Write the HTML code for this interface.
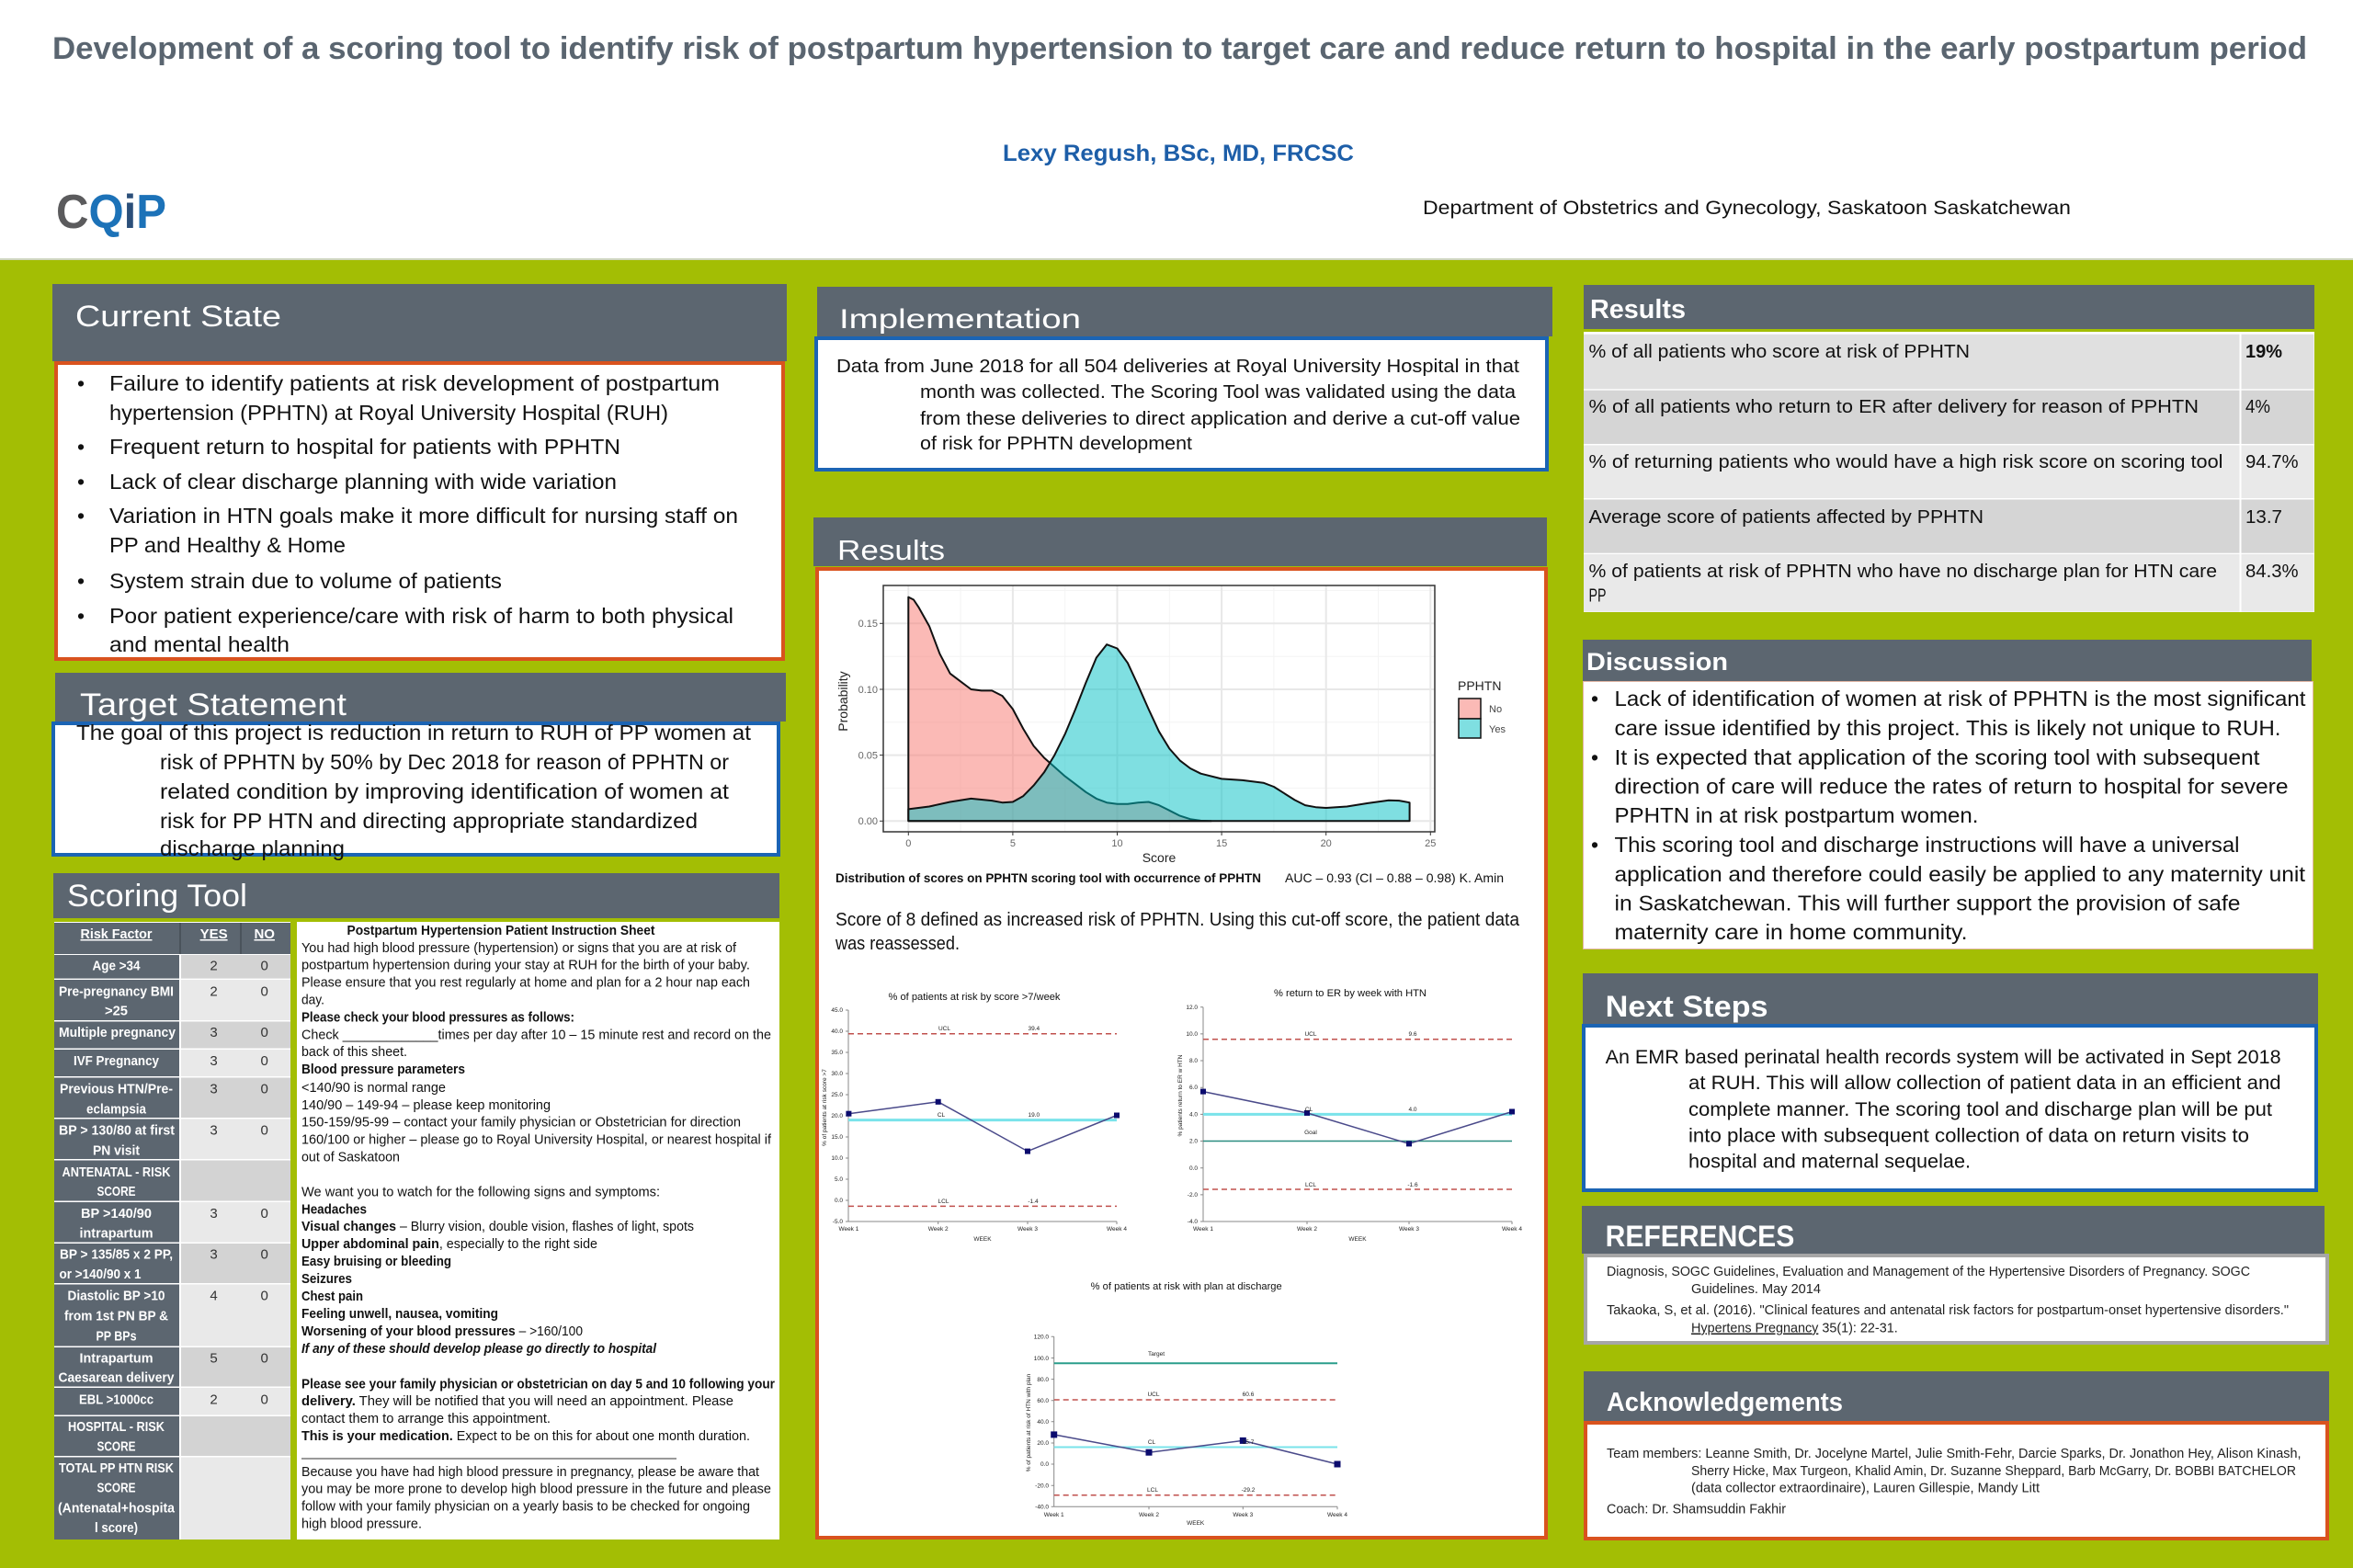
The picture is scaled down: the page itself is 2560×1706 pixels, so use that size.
<!DOCTYPE html>
<html><head><meta charset="utf-8"><title>PPHTN Poster</title>
<style>
html,body{margin:0;padding:0;background:#fff;width:2560px;height:1706px;overflow:hidden}
svg{display:block}
text{font-family:"Liberation Sans",Arial,sans-serif}
.w{fill:#fff}
.b{font-weight:bold}
.k{fill:#111}
.s{fill:#222;font-size:6.5px}
</style></head>
<body>
<svg xmlns="http://www.w3.org/2000/svg" width="2560" height="1706" viewBox="0 0 2560 1706">
<!-- header area -->
<rect x="0" y="0" width="2560" height="283" fill="#fff"/>
<text x="57" y="64" font-size="34" class="b" fill="#5a6570" textLength="2453" lengthAdjust="spacingAndGlyphs">Development of a scoring tool to identify risk of postpartum hypertension to target care and reduce return to hospital in the early postpartum period</text>
<text x="1091" y="175" font-size="25" class="b" fill="#1d5ea8" textLength="382" lengthAdjust="spacingAndGlyphs">Lexy Regush, BSc, MD, FRCSC</text>
<text x="1548" y="233" font-size="21" class="k" textLength="705" lengthAdjust="spacingAndGlyphs">Department of Obstetrics and Gynecology, Saskatoon Saskatchewan</text>
<text x="61" y="248" font-size="52" class="b" textLength="120" lengthAdjust="spacingAndGlyphs"><tspan fill="#5b5b5d">C</tspan><tspan fill="#1c72b8">Q</tspan><tspan fill="#2b4f7a">i</tspan><tspan fill="#1c72b8">P</tspan></text>

<!-- green background -->
<rect x="0" y="281" width="2560" height="2" fill="#cfd6c0"/>
<rect x="0" y="283" width="2560" height="1423" fill="#a3be04"/>

<!-- ============ LEFT COLUMN ============ -->
<!-- Current State -->
<rect x="57" y="309" width="799" height="84" fill="#5c6670"/>
<text x="82" y="355" font-size="32" class="w" textLength="224" lengthAdjust="spacingAndGlyphs">Current State</text>
<rect x="61" y="395" width="791" height="322" fill="#fff" stroke="#d9531e" stroke-width="4"/>
<g font-size="23" class="k">
<text x="84" y="425">•</text>
<text x="119" y="425" textLength="664" lengthAdjust="spacingAndGlyphs">Failure to identify patients at risk development of postpartum</text>
<text x="119" y="457" textLength="608" lengthAdjust="spacingAndGlyphs">hypertension (PPHTN) at Royal University Hospital (RUH)</text>
<text x="84" y="494">•</text>
<text x="119" y="494" textLength="556" lengthAdjust="spacingAndGlyphs">Frequent return to hospital for patients with PPHTN</text>
<text x="84" y="532">•</text>
<text x="119" y="532" textLength="552" lengthAdjust="spacingAndGlyphs">Lack of clear discharge planning with wide variation</text>
<text x="84" y="569">•</text>
<text x="119" y="569" textLength="684" lengthAdjust="spacingAndGlyphs">Variation in HTN goals make it more difficult for nursing staff on</text>
<text x="119" y="601" textLength="257" lengthAdjust="spacingAndGlyphs">PP and Healthy &amp; Home</text>
<text x="84" y="640">•</text>
<text x="119" y="640" textLength="427" lengthAdjust="spacingAndGlyphs">System strain due to volume of patients</text>
<text x="84" y="678">•</text>
<text x="119" y="678" textLength="679" lengthAdjust="spacingAndGlyphs">Poor patient experience/care with risk of harm to both physical</text>
<text x="119" y="709" textLength="196" lengthAdjust="spacingAndGlyphs">and mental health</text>
</g>

<!-- Target Statement -->
<rect x="60" y="732" width="795" height="53" fill="#5c6670"/>
<rect x="58" y="787" width="789" height="143" fill="#fff" stroke="#1b64b4" stroke-width="4"/>
<text x="87" y="778" font-size="34" class="w" textLength="290" lengthAdjust="spacingAndGlyphs">Target Statement</text>
<g font-size="23" class="k">
<text x="83" y="805" textLength="734" lengthAdjust="spacingAndGlyphs">The goal of this project is reduction in return to RUH of PP women at</text>
<text x="174" y="837" textLength="619" lengthAdjust="spacingAndGlyphs">risk of PPHTN by 50% by Dec 2018 for reason of PPHTN or</text>
<text x="174" y="869" textLength="619" lengthAdjust="spacingAndGlyphs">related condition by improving identification of women at</text>
<text x="174" y="901" textLength="585" lengthAdjust="spacingAndGlyphs">risk for PP HTN and directing appropriate standardized</text>
<text x="174" y="931" textLength="201" lengthAdjust="spacingAndGlyphs">discharge planning</text>
</g>

<!-- Scoring Tool -->
<rect x="58" y="950" width="790" height="49" fill="#5c6670"/>
<text x="73" y="986" font-size="34" class="w" textLength="196" lengthAdjust="spacingAndGlyphs">Scoring Tool</text>
<!-- table -->
<rect x="59" y="1003" width="257" height="672" fill="#fff"/>
<rect x="59" y="1004" width="257" height="34" fill="#5c6670"/>
<rect x="195" y="1004" width="2" height="34" fill="#4a535b"/>
<rect x="261" y="1004" width="2" height="34" fill="#4a535b"/>
<g font-size="15" class="b w" text-anchor="middle" text-decoration="underline">
<text x="126.5" y="1021" textLength="78" lengthAdjust="spacingAndGlyphs">Risk Factor</text>
<text x="232.6" y="1021">YES</text>
<text x="287.7" y="1021">NO</text>
</g>
<!-- rows -->
<g>
<rect x="59" y="1039" width="136" height="25.6" fill="#5c6670"/><rect x="197" y="1039" width="119" height="25.6" fill="#d3d3d3"/>
<rect x="59" y="1066" width="136" height="44" fill="#5c6670"/><rect x="197" y="1066" width="119" height="44" fill="#e9e9e9"/>
<rect x="59" y="1111.5" width="136" height="29" fill="#5c6670"/><rect x="197" y="1111.5" width="119" height="29" fill="#d3d3d3"/>
<rect x="59" y="1142" width="136" height="29" fill="#5c6670"/><rect x="197" y="1142" width="119" height="29" fill="#e9e9e9"/>
<rect x="59" y="1172.5" width="136" height="43.5" fill="#5c6670"/><rect x="197" y="1172.5" width="119" height="43.5" fill="#d3d3d3"/>
<rect x="59" y="1217.5" width="136" height="43.5" fill="#5c6670"/><rect x="197" y="1217.5" width="119" height="43.5" fill="#e9e9e9"/>
<rect x="59" y="1262.5" width="136" height="44" fill="#5c6670"/><rect x="197" y="1262.5" width="119" height="44" fill="#d3d3d3"/>
<rect x="59" y="1308" width="136" height="43.5" fill="#5c6670"/><rect x="197" y="1308" width="119" height="43.5" fill="#e9e9e9"/>
<rect x="59" y="1353" width="136" height="43" fill="#5c6670"/><rect x="197" y="1353" width="119" height="43" fill="#d3d3d3"/>
<rect x="59" y="1397.5" width="136" height="67" fill="#5c6670"/><rect x="197" y="1397.5" width="119" height="67" fill="#e9e9e9"/>
<rect x="59" y="1466" width="136" height="42.5" fill="#5c6670"/><rect x="197" y="1466" width="119" height="42.5" fill="#d3d3d3"/>
<rect x="59" y="1510" width="136" height="29.5" fill="#5c6670"/><rect x="197" y="1510" width="119" height="29.5" fill="#e9e9e9"/>
<rect x="59" y="1541" width="136" height="43" fill="#5c6670"/><rect x="197" y="1541" width="119" height="43" fill="#d3d3d3"/>
<rect x="59" y="1585.5" width="136" height="89.5" fill="#5c6670"/><rect x="197" y="1585.5" width="119" height="89.5" fill="#e9e9e9"/>
</g>
<g font-size="15" class="b w" text-anchor="middle">
<text x="126.5" y="1055.5" textLength="52" lengthAdjust="spacingAndGlyphs">Age &gt;34</text>
<text x="126.5" y="1083.3" textLength="125" lengthAdjust="spacingAndGlyphs">Pre-pregnancy BMI</text>
<text x="126.5" y="1104.3" textLength="25" lengthAdjust="spacingAndGlyphs">&gt;25</text>
<text x="127.5" y="1128.2" textLength="127" lengthAdjust="spacingAndGlyphs">Multiple pregnancy</text>
<text x="126.5" y="1159" textLength="93" lengthAdjust="spacingAndGlyphs">IVF Pregnancy</text>
<text x="126.5" y="1189.5" textLength="123" lengthAdjust="spacingAndGlyphs">Previous HTN/Pre-</text>
<text x="126.5" y="1211.5" textLength="65" lengthAdjust="spacingAndGlyphs">eclampsia</text>
<text x="127" y="1234.5" textLength="126" lengthAdjust="spacingAndGlyphs">BP &gt; 130/80 at first</text>
<text x="126.5" y="1256.5" textLength="51" lengthAdjust="spacingAndGlyphs">PN visit</text>
<text x="126.5" y="1280" textLength="118" lengthAdjust="spacingAndGlyphs">ANTENATAL - RISK</text>
<text x="126.5" y="1301" textLength="42" lengthAdjust="spacingAndGlyphs">SCORE</text>
<text x="126.5" y="1325" textLength="77" lengthAdjust="spacingAndGlyphs">BP &gt;140/90</text>
<text x="126.5" y="1346.5" textLength="80" lengthAdjust="spacingAndGlyphs">intrapartum</text>
<text x="126.5" y="1369.5" textLength="123" lengthAdjust="spacingAndGlyphs">BP &gt; 135/85 x 2 PP,</text>
<text x="109" y="1391" textLength="89" lengthAdjust="spacingAndGlyphs">or &gt;140/90 x 1</text>
<text x="126.5" y="1414.5" textLength="106" lengthAdjust="spacingAndGlyphs">Diastolic BP &gt;10</text>
<text x="126.5" y="1436.5" textLength="113" lengthAdjust="spacingAndGlyphs">from 1st PN BP &amp;</text>
<text x="126.5" y="1458.5" textLength="44" lengthAdjust="spacingAndGlyphs">PP BPs</text>
<text x="126.5" y="1482.5" textLength="80" lengthAdjust="spacingAndGlyphs">Intrapartum</text>
<text x="126.5" y="1503.5" textLength="126" lengthAdjust="spacingAndGlyphs">Caesarean delivery</text>
<text x="126.5" y="1527.5" textLength="81" lengthAdjust="spacingAndGlyphs">EBL &gt;1000cc</text>
<text x="126.5" y="1557" textLength="105" lengthAdjust="spacingAndGlyphs">HOSPITAL - RISK</text>
<text x="126.5" y="1578.5" textLength="42" lengthAdjust="spacingAndGlyphs">SCORE</text>
<text x="126.5" y="1602" textLength="125" lengthAdjust="spacingAndGlyphs">TOTAL PP HTN RISK</text>
<text x="126.5" y="1623.5" textLength="42" lengthAdjust="spacingAndGlyphs">SCORE</text>
<text x="126.5" y="1645.5" textLength="127" lengthAdjust="spacingAndGlyphs">(Antenatal+hospita</text>
<text x="126.5" y="1667" textLength="47" lengthAdjust="spacingAndGlyphs">l score)</text>
</g>
<g font-size="15" fill="#333" text-anchor="middle">
<text x="232.6" y="1055.5">2</text><text x="287.7" y="1055.5">0</text>
<text x="232.6" y="1083.3">2</text><text x="287.7" y="1083.3">0</text>
<text x="232.6" y="1128.2">3</text><text x="287.7" y="1128.2">0</text>
<text x="232.6" y="1159">3</text><text x="287.7" y="1159">0</text>
<text x="232.6" y="1189.5">3</text><text x="287.7" y="1189.5">0</text>
<text x="232.6" y="1234.5">3</text><text x="287.7" y="1234.5">0</text>
<text x="232.6" y="1325">3</text><text x="287.7" y="1325">0</text>
<text x="232.6" y="1369.5">3</text><text x="287.7" y="1369.5">0</text>
<text x="232.6" y="1414.5">4</text><text x="287.7" y="1414.5">0</text>
<text x="232.6" y="1482.5">5</text><text x="287.7" y="1482.5">0</text>
<text x="232.6" y="1527.5">2</text><text x="287.7" y="1527.5">0</text>
</g>
<!-- instruction sheet -->
<rect x="323" y="1003" width="525" height="672" fill="#fff"/>
<g font-size="15" class="k">
<text x="377.5" y="1017" class="b" textLength="335" lengthAdjust="spacingAndGlyphs">Postpartum Hypertension Patient Instruction Sheet</text>
<text x="328" y="1036" textLength="473" lengthAdjust="spacingAndGlyphs">You had high blood pressure (hypertension) or signs that you are at risk of</text>
<text x="328" y="1054.5" textLength="488" lengthAdjust="spacingAndGlyphs">postpartum hypertension during your stay at RUH for the birth of your baby.</text>
<text x="328" y="1073.5" textLength="488" lengthAdjust="spacingAndGlyphs">Please ensure that you rest regularly at home and plan for a 2 hour nap each</text>
<text x="328" y="1092.5" textLength="25" lengthAdjust="spacingAndGlyphs">day.</text>
<text x="328" y="1111.5" class="b" textLength="297" lengthAdjust="spacingAndGlyphs">Please check your blood pressures as follows:</text>
<text x="328" y="1130.5" textLength="511" lengthAdjust="spacingAndGlyphs">Check _____________times  per day after 10 – 15 minute rest and record on the</text>
<text x="328" y="1149" textLength="115" lengthAdjust="spacingAndGlyphs">back of this sheet.</text>
<text x="328" y="1168" class="b" textLength="178" lengthAdjust="spacingAndGlyphs">Blood pressure parameters</text>
<text x="328" y="1188" textLength="157" lengthAdjust="spacingAndGlyphs">&lt;140/90 is normal range</text>
<text x="328" y="1207" textLength="271" lengthAdjust="spacingAndGlyphs">140/90 – 149-94 – please keep monitoring</text>
<text x="328" y="1225.5" textLength="478" lengthAdjust="spacingAndGlyphs">150-159/95-99 – contact your family physician or Obstetrician for direction</text>
<text x="328" y="1244.5" textLength="511" lengthAdjust="spacingAndGlyphs">160/100 or higher – please go to Royal University Hospital, or nearest hospital if</text>
<text x="328" y="1263.5" textLength="107" lengthAdjust="spacingAndGlyphs">out of Saskatoon</text>
<text x="328" y="1301.5" textLength="390" lengthAdjust="spacingAndGlyphs">We want you to watch for the following signs and symptoms:</text>
<text x="328" y="1320.5" class="b" textLength="71" lengthAdjust="spacingAndGlyphs">Headaches</text>
<text x="328" y="1339" textLength="427" lengthAdjust="spacingAndGlyphs"><tspan class="b">Visual changes</tspan> – Blurry vision, double vision, flashes of light, spots</text>
<text x="328" y="1358" textLength="322" lengthAdjust="spacingAndGlyphs"><tspan class="b">Upper abdominal  pain</tspan>, especially  to the right side</text>
<text x="328" y="1377" class="b" textLength="163" lengthAdjust="spacingAndGlyphs">Easy bruising or bleeding</text>
<text x="328" y="1396" class="b" textLength="55" lengthAdjust="spacingAndGlyphs">Seizures</text>
<text x="328" y="1415" class="b" textLength="67" lengthAdjust="spacingAndGlyphs">Chest pain</text>
<text x="328" y="1434" class="b" textLength="214" lengthAdjust="spacingAndGlyphs">Feeling unwell, nausea, vomiting</text>
<text x="328" y="1453" textLength="306" lengthAdjust="spacingAndGlyphs"><tspan class="b">Worsening of your blood pressures</tspan> – &gt;160/100</text>
<text x="328" y="1472" class="b" font-style="italic" textLength="386" lengthAdjust="spacingAndGlyphs">If any of these should develop please go directly to hospital</text>
<text x="328" y="1510.5" class="b" textLength="515" lengthAdjust="spacingAndGlyphs">Please see your family physician or obstetrician on day 5 and 10 following your</text>
<text x="328" y="1529" textLength="470" lengthAdjust="spacingAndGlyphs"><tspan class="b">delivery.</tspan>  They will be notified  that you will need an appointment.   Please</text>
<text x="328" y="1548" textLength="271" lengthAdjust="spacingAndGlyphs">contact them to arrange this appointment.</text>
<text x="328" y="1567" textLength="488" lengthAdjust="spacingAndGlyphs"><tspan class="b">This is your medication.</tspan>  Expect to be on this for about one month duration.</text>
<line x1="328" y1="1587" x2="736" y2="1587" stroke="#333" stroke-width="1"/>
<text x="328" y="1606" textLength="498" lengthAdjust="spacingAndGlyphs">Because you have had high blood pressure in pregnancy, please be aware that</text>
<text x="328" y="1624.5" textLength="511" lengthAdjust="spacingAndGlyphs">you may be more prone to develop high blood pressure in the future and please</text>
<text x="328" y="1643.5" textLength="488" lengthAdjust="spacingAndGlyphs">follow with your family physician on a yearly basis to be checked for ongoing</text>
<text x="328" y="1662.5" textLength="131" lengthAdjust="spacingAndGlyphs">high blood pressure.</text>
</g>

<!-- ============ MIDDLE COLUMN ============ -->
<!-- Implementation -->
<rect x="889" y="312" width="800" height="54" fill="#5c6670"/>
<text x="913" y="357" font-size="30" class="w" textLength="263" lengthAdjust="spacingAndGlyphs">Implementation</text>
<rect x="888" y="368" width="795" height="143" fill="#fff" stroke="#1b64b4" stroke-width="4"/>
<g font-size="20" class="k">
<text x="910" y="405" textLength="743" lengthAdjust="spacingAndGlyphs">Data from June 2018  for all 504 deliveries at Royal University Hospital in that</text>
<text x="1001" y="433" textLength="648" lengthAdjust="spacingAndGlyphs">month was collected. The Scoring Tool was validated using the data</text>
<text x="1001" y="462" textLength="653" lengthAdjust="spacingAndGlyphs">from these deliveries to direct application and derive a cut-off value</text>
<text x="1001" y="489" textLength="296" lengthAdjust="spacingAndGlyphs">of risk for PPHTN development</text>
</g>

<!-- Results (middle) -->
<rect x="885" y="563" width="798" height="53" fill="#5c6670"/>
<text x="911" y="609" font-size="31" class="w" textLength="117" lengthAdjust="spacingAndGlyphs">Results</text>
<rect x="889" y="619" width="793" height="1054" fill="#fff" stroke="#d9531e" stroke-width="4"/>

<!-- density chart -->
<rect x="961" y="637" width="600" height="268" fill="#fff"/>
<g stroke="#f4f4f4" stroke-width="1">
<line x1="961" y1="857.5" x2="1561" y2="857.5"/><line x1="961" y1="785.8" x2="1561" y2="785.8"/><line x1="961" y1="714.2" x2="1561" y2="714.2"/><line x1="961" y1="642.5" x2="1561" y2="642.5"/>
<line x1="1045.1" y1="637" x2="1045.1" y2="905"/><line x1="1158.7" y1="637" x2="1158.7" y2="905"/><line x1="1272.3" y1="637" x2="1272.3" y2="905"/><line x1="1385.9" y1="637" x2="1385.9" y2="905"/><line x1="1499.5" y1="637" x2="1499.5" y2="905"/>
</g>
<g stroke="#e8e8e8" stroke-width="2">
<line x1="961" y1="893.3" x2="1561" y2="893.3"/><line x1="961" y1="821.6" x2="1561" y2="821.6"/><line x1="961" y1="750" x2="1561" y2="750"/><line x1="961" y1="678.3" x2="1561" y2="678.3"/>
<line x1="988.3" y1="637" x2="988.3" y2="905"/><line x1="1101.9" y1="637" x2="1101.9" y2="905"/><line x1="1215.5" y1="637" x2="1215.5" y2="905"/><line x1="1329.1" y1="637" x2="1329.1" y2="905"/><line x1="1442.7" y1="637" x2="1442.7" y2="905"/><line x1="1556.3" y1="637" x2="1556.3" y2="905"/>
</g>
<path d="M988.3,893.3 L988.3,649.6 L994,652.5 L999.7,661.1 L1011,681.2 L1022.4,711.3 L1033.7,732.8 L1045.1,741.4 L1056.5,750 L1067.8,751.4 L1079.2,751.4 L1090.5,757.1 L1101.9,771.5 L1113.3,793 L1124.6,811.6 L1136,824.5 L1147.3,834.5 L1158.7,844.6 L1170.1,853.2 L1181.4,861.8 L1192.8,868.9 L1204.1,873.2 L1215.5,874.7 L1226.9,874.7 L1238.2,873.2 L1249.6,872.5 L1260.9,876.1 L1272.3,881.8 L1283.7,887.6 L1295,891.2 L1306.4,892.9 L1317.7,893.3 Z" fill="#F8766D" fill-opacity="0.5" stroke="#111" stroke-width="2" stroke-linejoin="round"/>
<path d="M988.3,893.3 L988.3,880.4 L1011,877.5 L1033.7,872.5 L1056.5,868.9 L1079.2,871.1 L1090.5,873.2 L1101.9,872.5 L1113.3,866.1 L1124.6,854.6 L1136,840.3 L1147.3,821.6 L1158.7,798.7 L1170.1,771.5 L1181.4,742.8 L1192.8,715.6 L1204.1,701.2 L1215.5,705.5 L1226.9,721.3 L1238.2,745.7 L1249.6,771.5 L1260.9,795.8 L1272.3,814.5 L1283.7,827.4 L1295,836 L1306.4,841.7 L1329.1,847.4 L1351.8,848.9 L1374.5,851.7 L1385.9,856 L1397.3,863.2 L1408.6,870.4 L1420,876.1 L1431.4,878.2 L1442.7,879 L1465.4,877.5 L1488.1,873.9 L1510.9,870.7 L1522.2,871.1 L1533.6,873.2 L1533.6,893.3 Z" fill="#00BFC4" fill-opacity="0.5" stroke="#111" stroke-width="2" stroke-linejoin="round"/>
<rect x="961" y="637" width="600" height="268" fill="none" stroke="#333" stroke-width="1.5"/>
<g stroke="#333" stroke-width="1">
<line x1="957" y1="893.3" x2="961" y2="893.3"/><line x1="957" y1="821.6" x2="961" y2="821.6"/><line x1="957" y1="750" x2="961" y2="750"/><line x1="957" y1="678.3" x2="961" y2="678.3"/>
<line x1="988.3" y1="905" x2="988.3" y2="909"/><line x1="1101.9" y1="905" x2="1101.9" y2="909"/><line x1="1215.5" y1="905" x2="1215.5" y2="909"/><line x1="1329.1" y1="905" x2="1329.1" y2="909"/><line x1="1442.7" y1="905" x2="1442.7" y2="909"/><line x1="1556.3" y1="905" x2="1556.3" y2="909"/>
</g>
<g font-size="11" fill="#666" text-anchor="end">
<text x="955" y="897">0.00</text><text x="955" y="825.5">0.05</text><text x="955" y="754">0.10</text><text x="955" y="682">0.15</text>
</g>
<g font-size="11" fill="#666" text-anchor="middle">
<text x="988.3" y="921">0</text><text x="1101.9" y="921">5</text><text x="1215.5" y="921">10</text><text x="1329.1" y="921">15</text><text x="1442.7" y="921">20</text><text x="1556.3" y="921">25</text>
</g>
<text x="1261" y="938" font-size="14" fill="#222" text-anchor="middle">Score</text>
<text transform="translate(922,763) rotate(-90)" font-size="14" fill="#222" text-anchor="middle">Probability</text>
<text x="1586" y="751" font-size="14" fill="#222">PPHTN</text>
<rect x="1587" y="760" width="24" height="22" fill="#fbbab6" stroke="#111" stroke-width="1.5"/>
<rect x="1587" y="782" width="24" height="21" fill="#7fdfe1" stroke="#111" stroke-width="1.5"/>
<text x="1620" y="775" font-size="11" fill="#444">No</text>
<text x="1620" y="797" font-size="11" fill="#444">Yes</text>

<text x="909" y="960" font-size="14" class="b k" textLength="463" lengthAdjust="spacingAndGlyphs">Distribution of scores on PPHTN scoring tool with occurrence of PPHTN</text>
<text x="1398" y="960" font-size="14" class="k" textLength="238" lengthAdjust="spacingAndGlyphs">AUC – 0.93 (CI – 0.88 – 0.98)  K. Amin</text>
<text x="909" y="1007" font-size="20" class="k" textLength="744" lengthAdjust="spacingAndGlyphs">Score of 8 defined as increased risk of PPHTN.  Using this cut-off score, the patient data</text>
<text x="909" y="1033" font-size="20" class="k" textLength="135" lengthAdjust="spacingAndGlyphs">was reassessed.</text>

<!-- small chart 1 -->
<text x="1060" y="1088" font-size="11" class="k" text-anchor="middle" textLength="187" lengthAdjust="spacingAndGlyphs">% of patients at risk by score &gt;7/week</text>
<g stroke="#888" stroke-width="1" fill="none">
<line x1="923" y1="1099" x2="923" y2="1329"/><line x1="923" y1="1329" x2="1215" y2="1329"/>
<path d="M920,1099h3M920,1122h3M920,1145h3M920,1168h3M920,1191h3M920,1214h3M920,1237h3M920,1260h3M920,1283h3M920,1306h3M920,1329h3M1020.7,1329v3M1118,1329v3M1215,1329v3"/>
</g>
<line x1="923" y1="1124.8" x2="1215" y2="1124.8" stroke="#c0504d" stroke-width="1.5" stroke-dasharray="6,4"/>
<line x1="923" y1="1218.6" x2="1215" y2="1218.6" stroke="#7ae3ea" stroke-width="3"/>
<line x1="923" y1="1312.4" x2="1215" y2="1312.4" stroke="#c0504d" stroke-width="1.5" stroke-dasharray="6,4"/>
<polyline points="923.4,1211.7 1020.7,1198.8 1118,1252.6 1215,1213.5" fill="none" stroke="#4a4a8a" stroke-width="1.5"/>
<g fill="#0b0b6e"><rect x="920.4" y="1208.7" width="6" height="6"/><rect x="1017.7" y="1195.8" width="6" height="6"/><rect x="1115" y="1249.6" width="6" height="6"/><rect x="1212" y="1210.5" width="6" height="6"/></g>
<g class="s" text-anchor="end">
<text x="917" y="1101">45.0</text><text x="917" y="1124">40.0</text><text x="917" y="1147">35.0</text><text x="917" y="1170">30.0</text><text x="917" y="1193">25.0</text><text x="917" y="1216">20.0</text><text x="917" y="1239">15.0</text><text x="917" y="1262">10.0</text><text x="917" y="1285">5.0</text><text x="917" y="1308">0.0</text><text x="917" y="1331">-5.0</text>
</g>
<g class="s" text-anchor="middle">
<text x="923.4" y="1339">Week 1</text><text x="1020.7" y="1339">Week 2</text><text x="1118" y="1339">Week 3</text><text x="1215" y="1339">Week 4</text>
<text x="1069" y="1350">WEEK</text>
<text x="1027.5" y="1121">UCL</text><text x="1124.8" y="1121">39.4</text>
<text x="1024" y="1215">CL</text><text x="1124.8" y="1215">19.0</text>
<text x="1026.5" y="1309">LCL</text><text x="1124" y="1309">-1.4</text>
<text transform="translate(899,1205) rotate(-90)">% of patients at risk score &gt;7</text>
</g>

<!-- small chart 2 -->
<text x="1469" y="1084" font-size="11" class="k" text-anchor="middle" textLength="166" lengthAdjust="spacingAndGlyphs">% return to ER by week  with HTN</text>
<g stroke="#888" stroke-width="1" fill="none">
<line x1="1309" y1="1095.7" x2="1309" y2="1329"/><line x1="1309" y1="1329" x2="1645" y2="1329"/>
<path d="M1306,1095.7h3M1306,1124.9h3M1306,1154h3M1306,1183.2h3M1306,1212.4h3M1306,1241.5h3M1306,1270.7h3M1306,1299.9h3M1306,1329h3M1422,1329v3M1533,1329v3M1645,1329v3"/>
</g>
<line x1="1309" y1="1130.7" x2="1645" y2="1130.7" stroke="#c0504d" stroke-width="1.5" stroke-dasharray="6,4"/>
<line x1="1309" y1="1212.4" x2="1645" y2="1212.4" stroke="#7ae3ea" stroke-width="3"/>
<line x1="1309" y1="1241.5" x2="1645" y2="1241.5" stroke="#2a8d80" stroke-width="1.5"/>
<line x1="1309" y1="1294" x2="1645" y2="1294" stroke="#c0504d" stroke-width="1.5" stroke-dasharray="6,4"/>
<polyline points="1309,1187.6 1422,1210.9 1533,1244.4 1645,1209.5" fill="none" stroke="#4a4a8a" stroke-width="1.5"/>
<g fill="#0b0b6e"><rect x="1306" y="1184.6" width="6" height="6"/><rect x="1419" y="1207.9" width="6" height="6"/><rect x="1530" y="1241.4" width="6" height="6"/><rect x="1642" y="1206.5" width="6" height="6"/></g>
<g class="s" text-anchor="end">
<text x="1303" y="1098">12.0</text><text x="1303" y="1127">10.0</text><text x="1303" y="1156">8.0</text><text x="1303" y="1185">6.0</text><text x="1303" y="1214.5">4.0</text><text x="1303" y="1243.5">2.0</text><text x="1303" y="1273">0.0</text><text x="1303" y="1302">-2.0</text><text x="1303" y="1331">-4.0</text>
</g>
<g class="s" text-anchor="middle">
<text x="1309" y="1339">Week 1</text><text x="1422" y="1339">Week 2</text><text x="1533" y="1339">Week 3</text><text x="1645" y="1339">Week 4</text>
<text x="1477" y="1350">WEEK</text>
<text x="1426" y="1127">UCL</text><text x="1537" y="1127">9.6</text>
<text x="1424" y="1209">CL</text><text x="1537" y="1209">4.0</text>
<text x="1426" y="1234">Goal</text>
<text x="1426" y="1291">LCL</text><text x="1537" y="1291">-1.6</text>
<text transform="translate(1286,1192) rotate(-90)">% patients return to ER w HTN</text>
</g>

<!-- small chart 3 -->
<text x="1290.7" y="1403" font-size="11" class="k" text-anchor="middle" textLength="208" lengthAdjust="spacingAndGlyphs">% of patients at risk with plan at discharge</text>
<g stroke="#888" stroke-width="1" fill="none">
<line x1="1146.7" y1="1454.3" x2="1146.7" y2="1639.3"/><line x1="1146.7" y1="1639.3" x2="1455" y2="1639.3"/>
<path d="M1143.7,1454.3h3M1143.7,1477.5h3M1143.7,1500.6h3M1143.7,1523.7h3M1143.7,1546.8h3M1143.7,1570h3M1143.7,1593h3M1143.7,1616.2h3M1143.7,1639.3h3M1250,1639.3v3M1352.3,1639.3v3M1455,1639.3v3"/>
</g>
<line x1="1146.7" y1="1483.2" x2="1455" y2="1483.2" stroke="#2a9d8c" stroke-width="2"/>
<line x1="1146.7" y1="1523" x2="1455" y2="1523" stroke="#c0504d" stroke-width="1.5" stroke-dasharray="6,4"/>
<line x1="1146.7" y1="1574.5" x2="1455" y2="1574.5" stroke="#7ae3ea" stroke-width="2"/>
<line x1="1146.7" y1="1626.8" x2="1455" y2="1626.8" stroke="#c0504d" stroke-width="1.5" stroke-dasharray="6,4"/>
<polyline points="1146.7,1560.9 1250,1580.2 1352.3,1567.4 1455,1593" fill="none" stroke="#4a4a8a" stroke-width="1.5"/>
<g fill="#0b0b6e"><rect x="1143.2" y="1557.4" width="7" height="7"/><rect x="1246.5" y="1576.7" width="7" height="7"/><rect x="1348.8" y="1563.9" width="7" height="7"/><rect x="1451.5" y="1589.5" width="7" height="7"/></g>
<g class="s" text-anchor="end">
<text x="1141" y="1456.5">120.0</text><text x="1141" y="1480">100.0</text><text x="1141" y="1503">80.0</text><text x="1141" y="1526">60.0</text><text x="1141" y="1549">40.0</text><text x="1141" y="1572">20.0</text><text x="1141" y="1595">0.0</text><text x="1141" y="1618.5">-20.0</text><text x="1141" y="1641.5">-40.0</text>
</g>
<g class="s" text-anchor="middle">
<text x="1146.7" y="1650">Week 1</text><text x="1250" y="1650">Week 2</text><text x="1352.3" y="1650">Week 3</text><text x="1455" y="1650">Week 4</text>
<text x="1300.7" y="1659">WEEK</text>
<text x="1258" y="1475">Target</text>
<text x="1255" y="1519">UCL</text><text x="1358" y="1519">60.6</text>
<text x="1253" y="1571">CL</text><text x="1358" y="1571">15.7</text>
<text x="1254" y="1623">LCL</text><text x="1358" y="1623">-29.2</text>
<text transform="translate(1121,1548) rotate(-90)">% of patients at risk of HTN with plan</text>
</g>

<!-- ============ RIGHT COLUMN ============ -->
<!-- Results table -->
<rect x="1723" y="310" width="795" height="48" fill="#5c6670"/>
<text x="1730" y="346" font-size="29" class="b w" textLength="104" lengthAdjust="spacingAndGlyphs">Results</text>
<rect x="1723" y="361" width="795" height="305" fill="#fff"/>
<rect x="1723" y="363.7" width="713.5" height="59.6" fill="#e0e0e0"/><rect x="2438.5" y="363.7" width="79" height="59.6" fill="#e0e0e0"/>
<rect x="1723" y="424.7" width="713.5" height="58.3" fill="#d5d5d5"/><rect x="2438.5" y="424.7" width="79" height="58.3" fill="#d5d5d5"/>
<rect x="1723" y="484.4" width="713.5" height="57.6" fill="#e9e9e9"/><rect x="2438.5" y="484.4" width="79" height="57.6" fill="#e9e9e9"/>
<rect x="1723" y="543.5" width="713.5" height="58.2" fill="#d5d5d5"/><rect x="2438.5" y="543.5" width="79" height="58.2" fill="#d5d5d5"/>
<rect x="1723" y="603" width="713.5" height="62.6" fill="#e9e9e9"/><rect x="2438.5" y="603" width="79" height="62.6" fill="#e9e9e9"/>
<g font-size="20" class="k">
<text x="1728.5" y="389" textLength="414.5" lengthAdjust="spacingAndGlyphs">% of all patients who score at risk of PPHTN</text>
<text x="2443" y="389" class="b" textLength="40" lengthAdjust="spacingAndGlyphs">19%</text>
<text x="1728.5" y="449" textLength="663.5" lengthAdjust="spacingAndGlyphs">% of all patients who return to ER  after delivery for reason  of PPHTN</text>
<text x="2443" y="449" textLength="27" lengthAdjust="spacingAndGlyphs">4%</text>
<text x="1728.5" y="509" textLength="690" lengthAdjust="spacingAndGlyphs">% of returning patients who would have a high risk score on scoring tool</text>
<text x="2443" y="509" textLength="57.6" lengthAdjust="spacingAndGlyphs">94.7%</text>
<text x="1728.5" y="569" textLength="429.5" lengthAdjust="spacingAndGlyphs">Average score  of patients affected by PPHTN</text>
<text x="2443" y="569" textLength="40" lengthAdjust="spacingAndGlyphs">13.7</text>
<text x="1728.5" y="628" textLength="683.5" lengthAdjust="spacingAndGlyphs">% of patients at risk of PPHTN who have no discharge plan for HTN care</text>
<text x="1728.5" y="654.5" textLength="19" lengthAdjust="spacingAndGlyphs">PP</text>
<text x="2443" y="628" textLength="57.6" lengthAdjust="spacingAndGlyphs">84.3%</text>
</g>

<!-- Discussion -->
<rect x="1722" y="696" width="793" height="45" fill="#5c6670"/>
<text x="1726" y="729" font-size="27" class="b w" textLength="154" lengthAdjust="spacingAndGlyphs">Discussion</text>
<rect x="1722.5" y="741.5" width="794" height="291" fill="#fff" stroke="#e2b7a5" stroke-width="1"/>
<g font-size="23" class="k">
<text x="1731" y="768">•</text>
<text x="1756.5" y="768" textLength="752" lengthAdjust="spacingAndGlyphs">Lack of identification of women at risk of PPHTN is the most significant</text>
<text x="1756.5" y="800" textLength="725" lengthAdjust="spacingAndGlyphs">care issue identified by this project.  This is likely not unique to RUH.</text>
<text x="1731" y="832">•</text>
<text x="1756.5" y="832" textLength="702" lengthAdjust="spacingAndGlyphs">It is expected that application of the scoring tool with subsequent</text>
<text x="1756.5" y="863.5" textLength="733" lengthAdjust="spacingAndGlyphs">direction of care will reduce the rates of return to hospital for severe</text>
<text x="1756.5" y="895" textLength="396" lengthAdjust="spacingAndGlyphs">PPHTN in at risk postpartum women.</text>
<text x="1731" y="927">•</text>
<text x="1756.5" y="927" textLength="680" lengthAdjust="spacingAndGlyphs">This scoring tool and discharge instructions will have a universal</text>
<text x="1756.5" y="959" textLength="751.6" lengthAdjust="spacingAndGlyphs">application and therefore could easily be applied to any maternity unit</text>
<text x="1756.5" y="990.5" textLength="681" lengthAdjust="spacingAndGlyphs">in Saskatchewan.  This  will further support the provision of safe</text>
<text x="1756.5" y="1022" textLength="384" lengthAdjust="spacingAndGlyphs">maternity care in home community.</text>
</g>

<!-- Next Steps -->
<rect x="1722" y="1059" width="800" height="55" fill="#5c6670"/>
<text x="1746.6" y="1106" font-size="32" class="b w" textLength="177" lengthAdjust="spacingAndGlyphs">Next Steps</text>
<rect x="1723" y="1116" width="797" height="179" fill="#fff" stroke="#1b64b4" stroke-width="4"/>
<g font-size="21" class="k">
<text x="1746.6" y="1157" textLength="735" lengthAdjust="spacingAndGlyphs">An EMR based perinatal  health records system will be activated in Sept 2018</text>
<text x="1837" y="1185" textLength="644.6" lengthAdjust="spacingAndGlyphs">at RUH.  This will allow collection of patient data in an efficient and</text>
<text x="1837" y="1214" textLength="635" lengthAdjust="spacingAndGlyphs">complete manner.  The scoring tool and discharge plan will be put</text>
<text x="1837" y="1242.6" textLength="610" lengthAdjust="spacingAndGlyphs">into place with subsequent collection of data on return visits to</text>
<text x="1837" y="1270.6" textLength="307" lengthAdjust="spacingAndGlyphs">hospital and maternal sequelae.</text>
</g>

<!-- References -->
<rect x="1721" y="1312" width="808" height="52" fill="#5c6670"/>
<text x="1746.6" y="1356" font-size="32" class="b w" textLength="205.7" lengthAdjust="spacingAndGlyphs">REFERENCES</text>
<rect x="1725" y="1366" width="807" height="95" fill="#fff" stroke="#a6a6a6" stroke-width="4"/>
<g font-size="15" fill="#222">
<text x="1748" y="1388" textLength="700" lengthAdjust="spacingAndGlyphs">Diagnosis, SOGC Guidelines, Evaluation and Management of the Hypertensive Disorders of Pregnancy.  SOGC</text>
<text x="1840" y="1407" textLength="141" lengthAdjust="spacingAndGlyphs">Guidelines. May 2014</text>
<text x="1748" y="1430" textLength="742" lengthAdjust="spacingAndGlyphs">Takaoka, S, et al. (2016). "Clinical features and antenatal risk factors for postpartum-onset hypertensive disorders."</text>
<text x="1840" y="1449.5" textLength="224.7" lengthAdjust="spacingAndGlyphs"><tspan text-decoration="underline">Hypertens Pregnancy</tspan> 35(1): 22-31.</text>
</g>

<!-- Acknowledgements -->
<rect x="1723" y="1492" width="811" height="54" fill="#5c6670"/>
<text x="1748" y="1535" font-size="29" class="b w" textLength="257" lengthAdjust="spacingAndGlyphs">Acknowledgements</text>
<rect x="1725" y="1548" width="807" height="126" fill="#fff" stroke="#d9531e" stroke-width="4"/>
<g font-size="15" fill="#222">
<text x="1748" y="1586" textLength="755.5" lengthAdjust="spacingAndGlyphs">Team members:  Leanne Smith, Dr. Jocelyne Martel, Julie Smith-Fehr, Darcie Sparks, Dr. Jonathon Hey,  Alison Kinash,</text>
<text x="1840" y="1605" textLength="658" lengthAdjust="spacingAndGlyphs">Sherry Hicke,  Max Turgeon, Khalid Amin, Dr. Suzanne Sheppard, Barb McGarry, Dr. BOBBI BATCHELOR</text>
<text x="1840" y="1623.5" textLength="379" lengthAdjust="spacingAndGlyphs">(data collector extraordinaire), Lauren Gillespie, Mandy Litt</text>
<text x="1748" y="1646.5" textLength="195" lengthAdjust="spacingAndGlyphs">Coach:  Dr. Shamsuddin Fakhir</text>
</g>
</svg>
</body></html>
